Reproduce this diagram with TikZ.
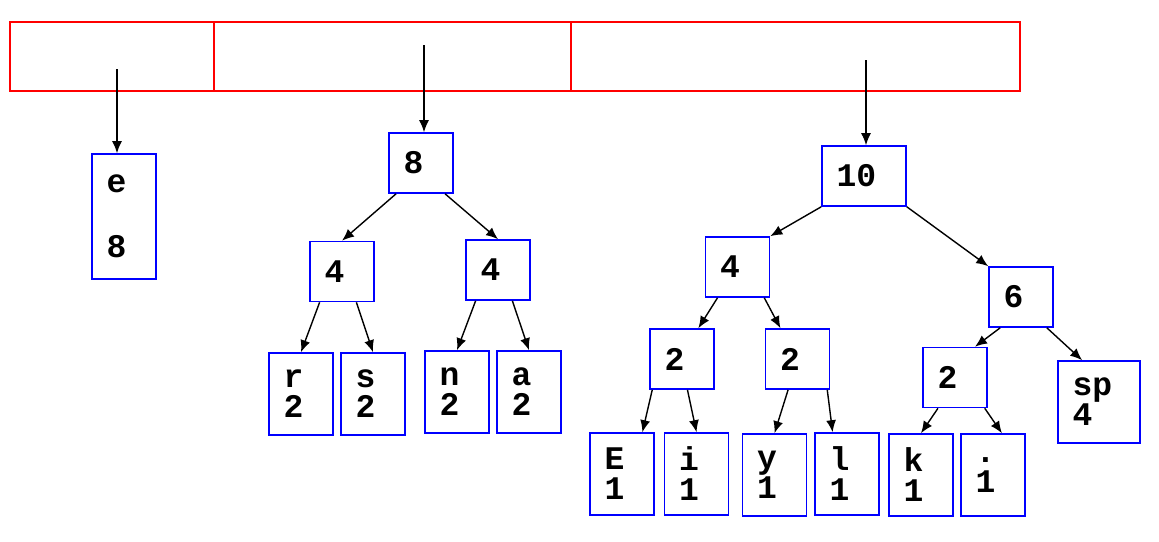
\documentclass[tikz,border=0pt]{standalone}
\usepackage{fontspec}
\setmonofont{Liberation Mono}
\usetikzlibrary{arrows.meta}

\begin{document}
\begin{tikzpicture}[x=0.5pt,y=-0.5pt,
  slot/.style={draw=red, line width=0.8pt, rectangle, minimum height=34.5pt, inner sep=0pt},
  box/.style={draw=blue, line width=0.8pt, rectangle, align=left, inner xsep=7.25pt, inner ysep=0pt,
    text width=17.5pt, minimum height=30pt, font=\fontsize{16.5}{15}\selectfont\ttfamily\bfseries},
  leaf/.style={box, minimum height=41pt},
  link/.style={-{Latex[length=6pt,width=5pt]}, line width=0.7pt}]
\useasboundingbox (0,0) rectangle (1159,541);

\node[slot, minimum width=102pt] (s1) at (112,56.5) {};
\node[slot, minimum width=178.5pt] (s2) at (392.5,56.5) {};
\node[slot, minimum width=224.5pt] (s3) at (795.5,56.5) {};
\coordinate (p1) at (117,69);
\coordinate (p2) at (424,45);
\coordinate (p3) at (866,60);

\node[box, minimum height=62.5pt] (e) at (124,216.5) {e\\[17.5pt]8};

\node[box] (n8) at (421,163) {8};
\node[box] (n4a) at (342,271.5) {4};
\node[box] (n4b) at (498,270) {4};
\node[leaf] (lr) at (301,394) {r\\2};
\node[leaf] (ls) at (373,394) {s\\2};
\node[leaf] (ln) at (457,392) {n\\2};
\node[leaf] (la) at (529,392) {a\\2};

\node[box, text width=27.5pt] (n10) at (864,176) {10};
\node[box] (n4c) at (737.5,267) {4};
\node[box] (n6) at (1021,297) {6};
\node[box] (n2a) at (682,359) {2};
\node[box] (n2b) at (797.5,359) {2};
\node[box] (n2c) at (955,377.5) {2};
\node[leaf, text width=26.5pt] (lsp) at (1099,402) {sp\\4};
\node[leaf] (lE) at (622,474) {E\\1};
\node[leaf] (li) at (696.5,474) {i\\1};
\node[leaf] (ly) at (774.5,475) {y\\1};
\node[leaf] (ll) at (847,474) {l\\1};
\node[leaf] (lk) at (921,475) {k\\1};
\node[leaf] (ldot) at (993,475) {.\\1};

\draw[link] (p1) -- (p1 |- e.north);
\draw[link] (p2) -- (p2 |- n8.north);
\draw[link] (p3) -- (p3 |- n10.north);

\draw[link] (n8.231) -- (n4a.north);
\draw[link] (n8.308) -- (n4b.north);
\draw[link] (n4a.234) -- (lr.north);
\draw[link] (n4a.295) -- (ls.north);
\draw[link] (n4b.234) -- (ln.north);
\draw[link] (n4b.295) -- (la.north);

\draw[link] (n10.south west) -- (n4c.north east);
\draw[link] (n10.south east) -- (n6.north west);
\draw[link] (n4c.237) -- (n2a.62);
\draw[link] (n4c.311) -- (n2b.119);
\draw[link] (n2a.226) -- (lE.64);
\draw[link] (n2a.280) -- (li.north);
\draw[link] (n2b.253) -- (ly.north);
\draw[link] (n2b.314) -- (ll.109);
\draw[link] (n6.236) -- (n2c.57);
\draw[link] (n6.310) -- (lsp.112);
\draw[link] (n2c.241) -- (lk.north);
\draw[link] (n2c.314) -- (ldot.78);
\end{tikzpicture}
\end{document}
